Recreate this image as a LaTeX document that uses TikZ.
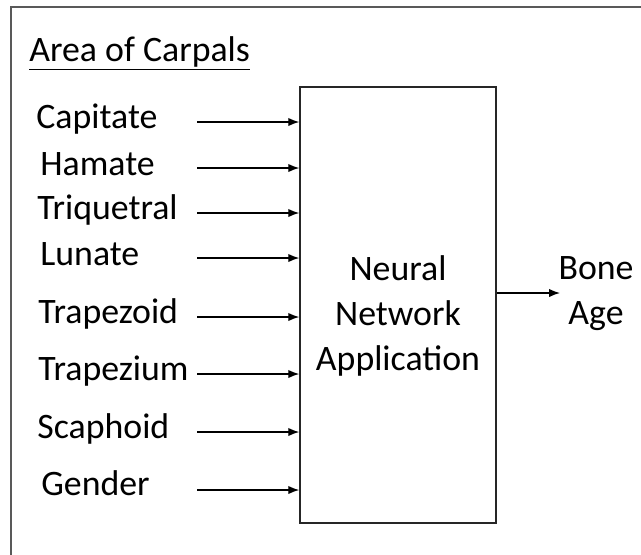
\documentclass[tikz,border=0pt]{standalone}
\usepackage{fontspec}
\setmainfont{Carlito}
\usetikzlibrary{arrows.meta,positioning}

\begin{document}
\begin{tikzpicture}[x=0.5pt, y=-0.5pt, >={Latex[length=5.5pt,width=4.2pt]},
  font=\fontsize{17.9}{22.5}\selectfont,
  carpal/.style={anchor=base west, inner sep=0pt},
  feed/.style={->, line width=.65pt, draw=black},
  netbox/.style={draw=black!85, line width=.75pt, minimum width=98pt,
    minimum height=218pt, inner sep=0pt}]
  \useasboundingbox (0,0) rectangle (641,554);
  \clip (0,0) rectangle (641,554);
  \draw[black!65, line width=1pt] (11,7) rectangle (700,620);

  \node[carpal] (title) at (29,61) {\underline{Area of Carpals}};

  \node[netbox] (nn) at (398,305) {};
  \node[align=center, inner sep=0pt] (nntext) at (398,316)
    {Neural\\Network\\Application};

  \node[carpal] (capitate) at (36,128) {Capitate};
  \node[carpal] (hamate) at (40,175) {Hamate};
  \node[carpal] (triquetral) at (37,219) {Triquetral};
  \node[carpal] (lunate) at (40,265) {Lunate};
  \node[carpal] (trapezoid) at (38,323) {Trapezoid};
  \node[carpal] (trapezium) at (38,380) {Trapezium};
  \node[carpal] (scaphoid) at (37,438) {Scaphoid};
  \node[carpal] (gender) at (41,495) {Gender};

  \coordinate (incapitate) at (197,122);
  \coordinate (inhamate) at (197,168);
  \coordinate (intriquetral) at (197,213);
  \coordinate (inlunate) at (197,258);
  \coordinate (intrapezoid) at (197,317);
  \coordinate (intrapezium) at (197,374);
  \coordinate (inscaphoid) at (197,432);
  \coordinate (ingender) at (197,490);

  \draw[feed] (incapitate) -- (incapitate -| nn.west);
  \draw[feed] (inhamate) -- (inhamate -| nn.west);
  \draw[feed] (intriquetral) -- (intriquetral -| nn.west);
  \draw[feed] (inlunate) -- (inlunate -| nn.west);
  \draw[feed] (intrapezoid) -- (intrapezoid -| nn.west);
  \draw[feed] (intrapezium) -- (intrapezium -| nn.west);
  \draw[feed] (inscaphoid) -- (inscaphoid -| nn.west);
  \draw[feed] (ingender) -- (ingender -| nn.west);

  % output
  \coordinate (outtip) at (560,293);
  \node[align=center, inner sep=0pt] (boneage) at (596,294) {Bone\\Age};
  \draw[feed] (nn.east |- outtip) -- (outtip);
\end{tikzpicture}
\end{document}
